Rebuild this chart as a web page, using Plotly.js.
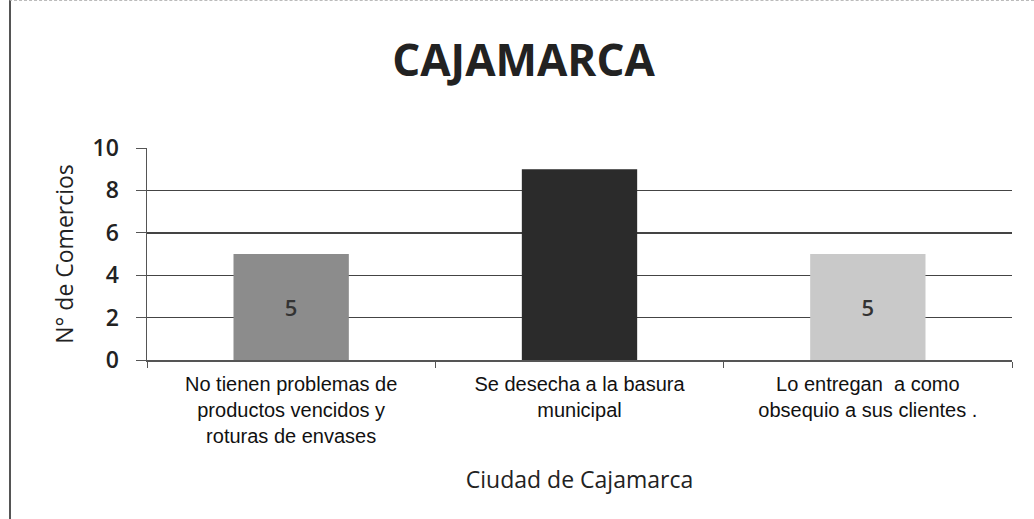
<!DOCTYPE html>
<html>
<head>
<meta charset="utf-8">
<script src="https://cdn.plot.ly/plotly-3.0.1.min.js"></script>
<style>
  html, body { margin: 0; padding: 0; background: #fff; }
  #chart {
    height: 519px; box-sizing: border-box;
    border-left: 2px solid #555; border-top: 1px dashed #bbb;
    margin-left: 9px; width: 1025px;
  }
</style>
</head>
<body>
<div id="chart"></div>
<script>
// Categories and values
const categories = [
  "No tienen problemas de<br>productos vencidos y<br>roturas de envases",
  "Se desecha a la basura<br>municipal",
  "Lo entregan  a como<br>obsequio a sus clientes ."
];
const counts = [5, 9, 5];
const barLabels = ["5", "", "5"];
const barColors = ["#8c8c8c", "#2b2b2b", "#c9c9c9"];

const trace = {
  type: "bar",
  x: categories,
  y: counts,
  text: barLabels,
  textposition: "inside",
  insidetextanchor: "middle",
  textfont: { family: "Open Sans, sans-serif", size: 22, color: "#333", weight: 600 },
  marker: { color: barColors },
  hoverinfo: "skip",
};

const layout = {
  width: 1025,
  height: 518,
  margin: { l: 136, r: 24, t: 147, b: 159 },
  paper_bgcolor: "#fff",
  plot_bgcolor: "#fff",
  bargap: 0.6,
  showlegend: false,
  title: {
    text: "<b>CAJAMARCA</b>",
    x: 0.5,
    xanchor: "center",
    y: 0.885,
    yanchor: "middle",
    font: { family: "Open Sans, sans-serif", size: 44, color: "#222" },
  },
  xaxis: {
    showline: true,
    linecolor: "#555",
    linewidth: 1.5,
    ticks: "outside",
    ticklen: 6,
    tickcolor: "#555",
    tickson: "boundaries",
    ticklabelstandoff: 5,
    tickfont: { family: "Liberation Sans, Arial, sans-serif", size: 20, color: "#111" },
    title: {
      text: "Ciudad de Cajamarca",
      font: { family: "Open Sans, sans-serif", size: 23, color: "#222" },
      standoff: 26,
    },
  },
  yaxis: {
    range: [0, 10],
    dtick: 2,
    showline: true,
    linecolor: "#555",
    linewidth: 1.5,
    ticks: "outside",
    ticklen: 10,
    tickcolor: "#555",
    ticklabelstandoff: 12,
    showgrid: true,
    gridcolor: "#444",
    gridwidth: 1.4,
    zeroline: false,
    tickfont: { family: "Open Sans, sans-serif", size: 23, color: "#222", weight: 600 },
    title: {
      text: "N° de Comercios",
      font: { family: "Open Sans, sans-serif", size: 23, color: "#222" },
      standoff: 12,
    },
  },
};

Plotly.newPlot("chart", [trace], layout, { displayModeBar: false, staticPlot: true });
</script>
</body>
</html>
